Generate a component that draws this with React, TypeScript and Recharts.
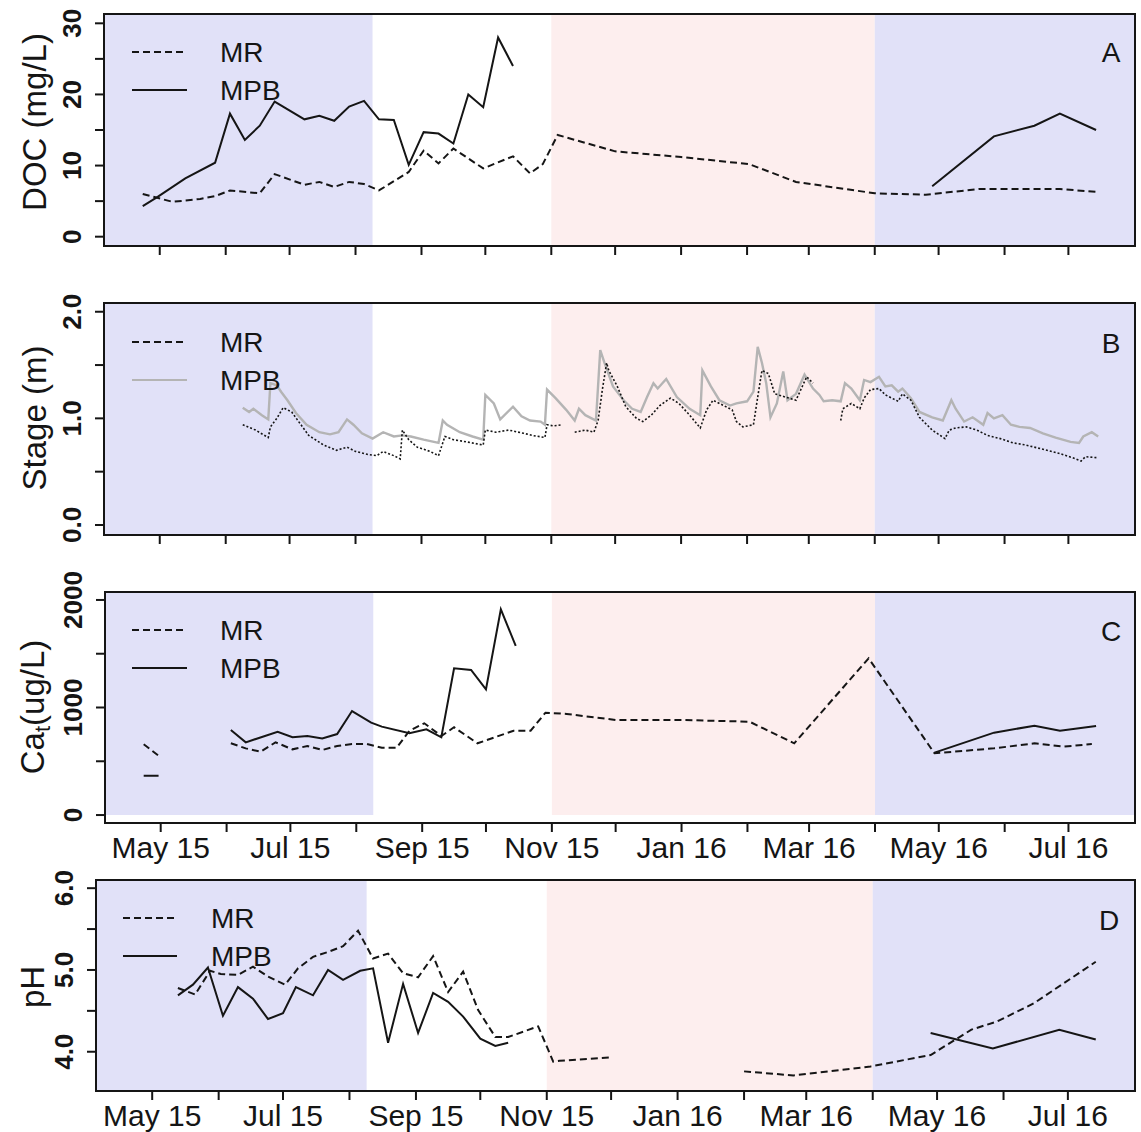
import React from 'react'
import { LineChart, Line, XAxis, YAxis, ReferenceArea } from 'recharts'

const W = 1141
const H = 1132
const FONT = '"Liberation Sans", Arial, Helvetica, sans-serif'
const INK = '#151515'
const GREY = '#b4b4b4'
const BLUE = '#e1e1f8'
const PINK = '#fdeeee'

// days counted from 1 May 2015
const ORIGIN = Date.UTC(2015, 4, 1)
const toDay = (s: string) => (Date.parse(s) - ORIGIN) / 86400000
const X_MIN = -26.2
const X_MAX = 458.3

type Pt = [string, number | null]

const monthTicks = [
  '2015-05-01', '2015-06-01', '2015-07-01', '2015-08-01', '2015-09-01', '2015-10-01', '2015-11-01',
  '2015-12-01', '2016-01-01', '2016-02-01', '2016-03-01', '2016-04-01', '2016-05-01', '2016-06-01', '2016-07-01',
]
const monthLabels = [
  'May 15', '', 'Jul 15', '', 'Sep 15', '', 'Nov 15', '', 'Jan 16', '', 'Mar 16', '', 'May 16', '', 'Jul 16',
]
const tickDays = monthTicks.map(toDay)

// summer / autumn / winter boundaries
const seasonBreaks = ['2015-08-09', '2015-11-01', '2016-04-01']

const docMR: Pt[] = [
  ['2015-04-23', 6.0], ['2015-05-07', 4.9], ['2015-05-20', 5.3], ['2015-05-27', 5.7], ['2015-06-03', 6.5],
  ['2015-06-17', 6.1], ['2015-06-24', 8.8], ['2015-07-08', 7.3], ['2015-07-15', 7.7], ['2015-07-22', 7.0],
  ['2015-07-29', 7.7], ['2015-08-05', 7.4], ['2015-08-12', 6.5], ['2015-08-26', 9.1], ['2015-09-02', 12.1],
  ['2015-09-09', 10.3], ['2015-09-16', 12.4], ['2015-09-30', 9.6], ['2015-10-14', 11.3], ['2015-10-22', 8.9],
  ['2015-10-28', 10.2], ['2015-11-04', 14.3], ['2015-12-01', 12.0], ['2016-01-01', 11.2], ['2016-02-02', 10.2],
  ['2016-02-24', 7.7], ['2016-04-01', 6.1], ['2016-04-25', 5.9], ['2016-05-20', 6.7], ['2016-06-27', 6.7],
  ['2016-07-14', 6.3],
]
const docMPB: Pt[] = [
  ['2015-04-23', 4.3], ['2015-04-30', 5.6], ['2015-05-13', 8.2], ['2015-05-27', 10.4], ['2015-06-03', 17.3],
  ['2015-06-10', 13.6], ['2015-06-17', 15.6], ['2015-06-24', 19.0], ['2015-07-08', 16.5], ['2015-07-15', 17.0],
  ['2015-07-22', 16.3], ['2015-07-29', 18.3], ['2015-08-05', 19.1], ['2015-08-12', 16.5], ['2015-08-19', 16.4],
  ['2015-08-26', 10.1], ['2015-09-02', 14.7], ['2015-09-09', 14.5], ['2015-09-16', 13.1], ['2015-09-23', 20.0],
  ['2015-09-30', 18.2], ['2015-10-07', 28.0], ['2015-10-14', 24.0], ['2016-01-01', null], ['2016-04-28', 7.1],
  ['2016-05-27', 14.1], ['2016-06-15', 15.6], ['2016-06-27', 17.3], ['2016-07-14', 15.0],
]

const stageMR: Pt[] = [
  ['2015-06-09', 0.94], ['2015-06-15', 0.89], ['2015-06-21', 0.82], ['2015-06-22', 0.92], ['2015-06-25', 1.0],
  ['2015-06-28', 1.1], ['2015-07-02', 1.06], ['2015-07-06', 0.95], ['2015-07-10', 0.84], ['2015-07-17', 0.75],
  ['2015-07-23', 0.7], ['2015-07-28', 0.73], ['2015-08-01', 0.69], ['2015-08-07', 0.66], ['2015-08-11', 0.65],
  ['2015-08-14', 0.69], ['2015-08-19', 0.65], ['2015-08-22', 0.62], ['2015-08-23', 0.89], ['2015-08-26', 0.8],
  ['2015-08-30', 0.73], ['2015-09-05', 0.69], ['2015-09-09', 0.65], ['2015-09-12', 0.83], ['2015-09-16', 0.8],
  ['2015-09-22', 0.78], ['2015-09-30', 0.75], ['2015-10-01', 0.89], ['2015-10-06', 0.87], ['2015-10-12', 0.89],
  ['2015-10-19', 0.86], ['2015-10-23', 0.84], ['2015-10-29', 0.82], ['2015-10-30', 0.94], ['2015-11-02', 0.93],
  ['2015-11-06', 0.94], ['2015-11-09', null], ['2015-11-12', 0.87], ['2015-11-17', 0.89], ['2015-11-21', 0.87],
  ['2015-11-23', 0.98], ['2015-11-25', 1.27], ['2015-11-27', 1.52], ['2015-11-28', 1.45], ['2015-12-02', 1.3],
  ['2015-12-06', 1.11], ['2015-12-11', 1.0], ['2015-12-14', 0.97], ['2015-12-18', 1.03], ['2015-12-22', 1.12],
  ['2015-12-27', 1.19], ['2015-12-31', 1.14], ['2016-01-05', 1.03], ['2016-01-10', 0.91], ['2016-01-13', 1.08],
  ['2016-01-16', 1.17], ['2016-01-21', 1.12], ['2016-01-25', 1.08], ['2016-01-27', 0.97], ['2016-01-30', 0.92],
  ['2016-02-04', 0.94], ['2016-02-06', 1.2], ['2016-02-08', 1.45], ['2016-02-11', 1.42], ['2016-02-14', 1.23],
  ['2016-02-19', 1.2], ['2016-02-24', 1.17], ['2016-02-29', 1.39], ['2016-03-03', 1.33], ['2016-03-10', null],
  ['2016-03-16', 0.98], ['2016-03-17', 1.09], ['2016-03-21', 1.14], ['2016-03-25', 1.09], ['2016-03-27', 1.19],
  ['2016-03-30', 1.27], ['2016-04-03', 1.28], ['2016-04-06', 1.22], ['2016-04-09', 1.19], ['2016-04-12', 1.16],
  ['2016-04-14', 1.23], ['2016-04-18', 1.17], ['2016-04-22', 1.01], ['2016-04-28', 0.89], ['2016-05-04', 0.81],
  ['2016-05-06', 0.89], ['2016-05-09', 0.91], ['2016-05-14', 0.92], ['2016-05-19', 0.89], ['2016-05-24', 0.84],
  ['2016-05-30', 0.81], ['2016-06-05', 0.77], ['2016-06-11', 0.75], ['2016-06-19', 0.71], ['2016-06-27', 0.67],
  ['2016-07-03', 0.63], ['2016-07-07', 0.6], ['2016-07-09', 0.64], ['2016-07-15', 0.63],
]
const stageMPB: Pt[] = [
  ['2015-06-09', 1.1], ['2015-06-12', 1.06], ['2015-06-14', 1.09], ['2015-06-18', 1.03], ['2015-06-21', 0.99],
  ['2015-06-22', 1.33], ['2015-06-25', 1.31], ['2015-06-27', 1.25], ['2015-06-30', 1.17], ['2015-07-04', 1.05],
  ['2015-07-09', 0.94], ['2015-07-15', 0.87], ['2015-07-20', 0.85], ['2015-07-24', 0.87], ['2015-07-28', 0.99],
  ['2015-07-31', 0.94], ['2015-08-04', 0.86], ['2015-08-09', 0.81], ['2015-08-14', 0.87], ['2015-08-19', 0.83],
  ['2015-08-23', 0.84], ['2015-08-27', 0.83], ['2015-09-02', 0.8], ['2015-09-09', 0.77], ['2015-09-11', 0.98],
  ['2015-09-13', 0.94], ['2015-09-19', 0.87], ['2015-09-25', 0.83], ['2015-09-30', 0.8], ['2015-10-01', 1.22],
  ['2015-10-05', 1.14], ['2015-10-08', 0.99], ['2015-10-14', 1.11], ['2015-10-18', 1.02], ['2015-10-22', 0.98],
  ['2015-10-27', 0.97], ['2015-10-29', 0.94], ['2015-10-30', 1.27], ['2015-11-03', 1.19], ['2015-11-08', 1.08],
  ['2015-11-12', 0.98], ['2015-11-14', 1.09], ['2015-11-17', 1.03], ['2015-11-22', 0.98], ['2015-11-24', 1.64],
  ['2015-11-26', 1.52], ['2015-11-30', 1.3], ['2015-12-05', 1.17], ['2015-12-09', 1.09], ['2015-12-13', 1.06],
  ['2015-12-16', 1.2], ['2015-12-19', 1.33], ['2015-12-21', 1.28], ['2015-12-25', 1.37], ['2015-12-30', 1.2],
  ['2016-01-05', 1.09], ['2016-01-10', 1.03], ['2016-01-11', 1.45], ['2016-01-15', 1.3], ['2016-01-19', 1.17],
  ['2016-01-24', 1.12], ['2016-01-27', 1.14], ['2016-02-01', 1.16], ['2016-02-04', 1.25], ['2016-02-06', 1.67],
  ['2016-02-08', 1.52], ['2016-02-10', 1.33], ['2016-02-12', 1.01], ['2016-02-15', 1.14], ['2016-02-18', 1.44],
  ['2016-02-20', 1.17], ['2016-02-24', 1.23], ['2016-02-28', 1.41], ['2016-03-03', 1.28], ['2016-03-06', 1.22],
  ['2016-03-08', 1.16], ['2016-03-12', 1.17], ['2016-03-16', 1.16], ['2016-03-18', 1.33], ['2016-03-21', 1.28],
  ['2016-03-25', 1.17], ['2016-03-27', 1.36], ['2016-03-30', 1.34], ['2016-04-03', 1.39], ['2016-04-06', 1.3],
  ['2016-04-09', 1.31], ['2016-04-12', 1.25], ['2016-04-14', 1.28], ['2016-04-18', 1.19], ['2016-04-22', 1.06],
  ['2016-04-28', 1.01], ['2016-05-03', 0.98], ['2016-05-07', 1.17], ['2016-05-09', 1.09], ['2016-05-13', 0.97],
  ['2016-05-17', 1.01], ['2016-05-22', 0.94], ['2016-05-24', 1.05], ['2016-05-27', 1.0], ['2016-05-31', 1.03],
  ['2016-06-04', 0.94], ['2016-06-08', 0.92], ['2016-06-13', 0.91], ['2016-06-19', 0.86], ['2016-06-25', 0.82],
  ['2016-07-02', 0.78], ['2016-07-06', 0.77], ['2016-07-08', 0.83], ['2016-07-12', 0.87], ['2016-07-15', 0.83],
]

const caMR: Pt[] = [
  ['2015-04-23', 658], ['2015-04-30', 552], ['2015-05-15', null], ['2015-06-03', 667], ['2015-06-10', 620],
  ['2015-06-17', 589], ['2015-06-24', 676], ['2015-07-02', 611], ['2015-07-09', 642], ['2015-07-16', 605],
  ['2015-07-23', 642], ['2015-07-30', 660], ['2015-08-06', 660], ['2015-08-13', 626], ['2015-08-20', 626],
  ['2015-08-26', 784], ['2015-09-02', 853], ['2015-09-10', 735], ['2015-09-16', 816], ['2015-09-27', 667],
  ['2015-10-14', 784], ['2015-10-22', 784], ['2015-10-29', 952], ['2015-11-08', 940], ['2015-12-01', 884],
  ['2016-01-01', 884], ['2016-02-02', 868], ['2016-02-23', 667], ['2016-03-29', 1457], ['2016-04-29', 574],
  ['2016-05-27', 620], ['2016-06-15', 667], ['2016-06-29', 636], ['2016-07-12', 660],
]
const caMPB: Pt[] = [
  ['2015-04-23', 366], ['2015-04-30', 366], ['2015-05-15', null], ['2015-06-03', 791], ['2015-06-10', 676],
  ['2015-06-25', 775], ['2015-07-02', 723], ['2015-07-09', 735], ['2015-07-16', 713], ['2015-07-23', 753],
  ['2015-07-30', 967], ['2015-08-08', 859], ['2015-08-13', 822], ['2015-08-26', 760], ['2015-09-03', 797],
  ['2015-09-10', 723], ['2015-09-16', 1365], ['2015-09-24', 1349], ['2015-10-01', 1169], ['2015-10-08', 1913],
  ['2015-10-15', 1572], ['2016-01-01', null], ['2016-04-29', 580], ['2016-05-27', 766], ['2016-06-15', 831],
  ['2016-06-27', 784], ['2016-07-14', 828],
]

const phMR: Pt[] = [
  ['2015-05-13', 4.78], ['2015-05-21', 4.7], ['2015-05-28', 4.99], ['2015-06-02', 4.95], ['2015-06-10', 4.94],
  ['2015-06-17', 5.04], ['2015-06-24', 4.92], ['2015-07-02', 4.82], ['2015-07-08', 5.02], ['2015-07-15', 5.16],
  ['2015-07-22', 5.22], ['2015-07-29', 5.29], ['2015-08-05', 5.48], ['2015-08-12', 5.14], ['2015-08-19', 5.2],
  ['2015-08-26', 4.96], ['2015-09-02', 4.91], ['2015-09-09', 5.17], ['2015-09-16', 4.73], ['2015-09-23', 4.98],
  ['2015-09-30', 4.51], ['2015-10-08', 4.18], ['2015-10-14', 4.18], ['2015-10-28', 4.31], ['2015-11-04', 3.88],
  ['2015-11-07', 3.89], ['2015-12-01', 3.93], ['2016-01-01', null], ['2016-02-01', 3.76], ['2016-02-24', 3.71],
  ['2016-03-31', 3.82], ['2016-04-28', 3.96], ['2016-05-17', 4.27], ['2016-05-29', 4.37], ['2016-06-15', 4.59],
  ['2016-07-14', 5.1],
]
const phMPB: Pt[] = [
  ['2015-05-13', 4.69], ['2015-05-20', 4.82], ['2015-05-27', 5.03], ['2015-06-03', 4.44], ['2015-06-10', 4.79],
  ['2015-06-17', 4.65], ['2015-06-24', 4.4], ['2015-07-01', 4.47], ['2015-07-07', 4.79], ['2015-07-15', 4.69],
  ['2015-07-22', 5.0], ['2015-07-29', 4.88], ['2015-08-06', 4.99], ['2015-08-12', 5.02], ['2015-08-19', 4.11],
  ['2015-08-26', 4.83], ['2015-09-02', 4.23], ['2015-09-09', 4.72], ['2015-09-16', 4.61], ['2015-09-23', 4.43],
  ['2015-10-01', 4.16], ['2015-10-08', 4.07], ['2015-10-14', 4.11], ['2016-01-01', null], ['2016-04-28', 4.23],
  ['2016-05-27', 4.04], ['2016-06-27', 4.27], ['2016-07-14', 4.15],
]

interface Box { left: number; top: number; right: number; bottom: number }
interface Series { name: string; points: Pt[]; stroke: string; width: number; dash?: string }

const rows = (pts: Pt[]) => pts.map(([d, v]) => ({ day: toDay(d), v }))

// room above each plot box for tick labels that overhang it
const HEAD = 40

function Panel(props: {
  box: Box
  yDomain: [number, number]
  yTicks: number[]
  yLabel: (v: number) => string
  shadeFloor?: number
  series: Series[]
  dated: boolean
}) {
  const { box, yDomain, yTicks, yLabel, series, dated } = props
  const top = box.top - HEAD
  const height = box.bottom - top + 50
  // axes get a 1px band each so that they are laid out and drawn
  const margin = { top: HEAD, left: box.left - 1, right: W - box.right, bottom: height - (box.bottom - top) - 1 }
  const [b1, b2, b3] = seasonBreaks.map(toDay)
  const floor = props.shadeFloor ?? yDomain[0]
  const axisBottom = box.bottom - top

  const tickX = (p: any) => {
    const x = p.x
    const label = monthLabels[tickDays.indexOf(p.payload.value)]
    return (
      <g>
        <line x1={x} x2={x} y1={axisBottom} y2={axisBottom + 9} stroke={INK} strokeWidth={2} />
        {dated && label ? (
          <text x={x} y={axisBottom + 35} textAnchor="middle" fontSize={30} fontFamily={FONT} fill={INK}>
            {label}
          </text>
        ) : null}
      </g>
    )
  }
  const tickY = (p: any) => {
    const y = p.y
    const label = yLabel(p.payload.value)
    const cx = box.left - 23
    return (
      <g>
        <line x1={box.left - 9} x2={box.left} y1={y} y2={y} stroke={INK} strokeWidth={2} />
        {label ? (
          <text x={cx} y={y} transform={`rotate(-90 ${cx} ${y})`} textAnchor="middle" fontSize={26}
            fontWeight="bold" fontFamily={FONT} fill={INK}>
            {label}
          </text>
        ) : null}
      </g>
    )
  }

  return (
    <div style={{ position: 'absolute', left: 0, top }}>
      <LineChart width={W} height={height} margin={margin}>
        <XAxis type="number" dataKey="day" domain={[X_MIN, X_MAX]} allowDataOverflow ticks={tickDays}
          interval={0} height={1} axisLine={false} tickLine={false} tick={tickX} />
        <YAxis type="number" domain={yDomain} allowDataOverflow ticks={yTicks} interval={0} width={1}
          axisLine={false} tickLine={false} tick={tickY} />
        <ReferenceArea x1={X_MIN} x2={b1} y1={floor} y2={yDomain[1]} fill={BLUE} fillOpacity={1} stroke="none" />
        <ReferenceArea x1={b2} x2={b3} y1={floor} y2={yDomain[1]} fill={PINK} fillOpacity={1} stroke="none" />
        <ReferenceArea x1={b3} x2={X_MAX} y1={floor} y2={yDomain[1]} fill={BLUE} fillOpacity={1} stroke="none" />
        {series.map((s) => (
          <Line key={s.name} data={rows(s.points)} dataKey="v" stroke={s.stroke} strokeWidth={s.width}
            strokeDasharray={s.dash} dot={false} activeDot={false} connectNulls={false}
            isAnimationActive={false} />
        ))}
        <ReferenceArea x1={X_MIN} x2={X_MAX} y1={yDomain[0]} y2={yDomain[1]} fill="none" stroke={INK}
          strokeWidth={2} />
      </LineChart>
    </div>
  )
}

const DASH = '7 4'

function LegendRows({ x0, x1, tx, y, greySecond }: { x0: number; x1: number; tx: number; y: number; greySecond?: boolean }) {
  return (
    <g fontFamily={FONT} fontSize={28} fill={INK}>
      <line x1={x0} x2={x1} y1={y} y2={y} stroke={INK} strokeWidth={2} strokeDasharray={DASH} />
      <text x={tx} y={y} dominantBaseline="central">MR</text>
      <line x1={x0} x2={x1} y1={y + 38} y2={y + 38} stroke={greySecond ? GREY : INK} strokeWidth={2} />
      <text x={tx} y={y + 38} dominantBaseline="central">MPB</text>
    </g>
  )
}

function Title({ x, y, children }: { x: number; y: number; children: React.ReactNode }) {
  return (
    <text x={x} y={y} transform={`rotate(-90 ${x} ${y})`} textAnchor="middle" fontFamily={FONT} fontSize={33}
      fill={INK}>
      {children}
    </text>
  )
}

export default function App() {
  return (
    <div style={{ position: 'absolute', left: 0, top: 0, width: W, height: H, background: '#fff' }}>
      <Panel
        box={{ left: 104, top: 14, right: 1135, bottom: 246 }}
        yDomain={[-1.31, 31.31]}
        yTicks={[0, 5, 10, 15, 20, 25, 30]}
        yLabel={(v) => (v % 10 === 0 ? String(v) : '')}
        dated={false}
        series={[
          { name: 'MR', points: docMR, stroke: INK, width: 2, dash: DASH },
          { name: 'MPB', points: docMPB, stroke: INK, width: 2 },
        ]}
      />
      <Panel
        box={{ left: 104, top: 303, right: 1135, bottom: 535 }}
        yDomain={[-0.094, 2.082]}
        yTicks={[0, 0.5, 1, 1.5, 2]}
        yLabel={(v) => (Number.isInteger(v) ? v.toFixed(1) : '')}
        dated={false}
        series={[
          { name: 'MPB', points: stageMPB, stroke: GREY, width: 2.4 },
          { name: 'MR', points: stageMR, stroke: INK, width: 1.6, dash: '2 2' },
        ]}
      />
      <Panel
        box={{ left: 105, top: 592, right: 1135, bottom: 823 }}
        yDomain={[-74, 2074]}
        yTicks={[0, 500, 1000, 1500, 2000]}
        yLabel={(v) => (v % 1000 === 0 ? String(v) : '')}
        shadeFloor={0}
        dated
        series={[
          { name: 'MR', points: caMR, stroke: INK, width: 2, dash: DASH },
          { name: 'MPB', points: caMPB, stroke: INK, width: 2 },
        ]}
      />
      <Panel
        box={{ left: 96, top: 880, right: 1135, bottom: 1091 }}
        yDomain={[3.52, 6.1]}
        yTicks={[4, 4.5, 5, 5.5, 6]}
        yLabel={(v) => (Number.isInteger(v) ? v.toFixed(1) : '')}
        dated
        series={[
          { name: 'MR', points: phMR, stroke: INK, width: 2, dash: DASH },
          { name: 'MPB', points: phMPB, stroke: INK, width: 2 },
        ]}
      />
      <svg width={W} height={H} style={{ position: 'absolute', left: 0, top: 0, pointerEvents: 'none' }}>
        <Title x={46} y={122}>DOC (mg/L)</Title>
        <Title x={46} y={418}>Stage (m)</Title>
        <Title x={44} y={707}>
          Ca<tspan dy={6} fontSize={22}>t</tspan><tspan dy={-6}>(ug/L)</tspan>
        </Title>
        <Title x={44} y={987}>pH</Title>

        <LegendRows x0={132} x1={187} tx={220} y={52} />
        <LegendRows x0={132} x1={187} tx={220} y={342} greySecond />
        <LegendRows x0={132} x1={187} tx={220} y={630} />
        <LegendRows x0={123} x1={177} tx={211} y={918} />

        <g fontFamily={FONT} fontSize={28} fill={INK} textAnchor="middle">
          <text x={1111} y={52} dominantBaseline="central">A</text>
          <text x={1111} y={343} dominantBaseline="central">B</text>
          <text x={1111} y={631} dominantBaseline="central">C</text>
          <text x={1109} y={920} dominantBaseline="central">D</text>
        </g>
      </svg>
    </div>
  )
}
